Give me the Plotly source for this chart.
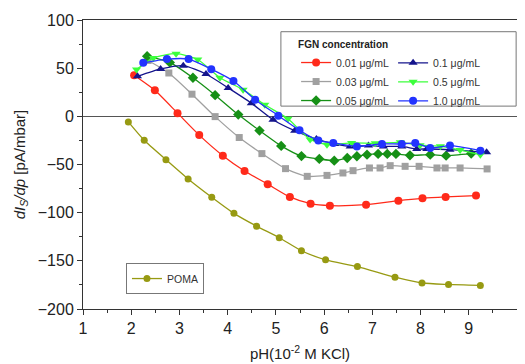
import plotly.graph_objects as go

# ---- data ----
poma_x = [1.94, 2.27, 2.72, 3.18, 3.67, 4.13, 4.60, 5.07, 5.53, 6.03, 6.69, 7.47, 8.03, 8.58, 9.24]
poma_y = [-5.8, -24.9, -45, -65, -84, -100.7, -114, -126, -139.5, -149, -156, -167, -173, -174.5, -175.5]

c001_x = [2.06, 2.49, 2.96, 3.41, 3.90, 4.35, 4.83, 5.29, 5.72, 6.12, 6.87, 7.54, 8.04, 8.52, 9.15]
c001_y = [42.6, 27, 3.3, -19.5, -40.8, -56.7, -70.4, -83.7, -90.7, -92.7, -91.7, -87.5, -85.1, -83.7, -82.3]

c003_x = [2.35, 2.78, 3.26, 3.74, 4.24, 4.71, 5.20, 5.65, 6.06, 6.39, 6.60, 6.94, 7.16, 7.37, 7.68, 7.97, 8.34, 8.51, 8.82, 9.38]
c003_y = [58, 45, 23, -0.3, -22, -38.7, -54.3, -62.3, -61.3, -58.8, -56.4, -53.6, -53.6, -51.2, -51.9, -51.9, -53.6, -53.6, -53.6, -54.6]

c005_x = [2.33, 2.80, 3.28, 3.74, 4.22, 4.66, 5.11, 5.53, 5.90, 6.21, 6.48, 6.68, 6.89, 7.12, 7.31, 7.49, 7.78, 8.20, 8.53, 9.05]
c005_y = [62.5, 56, 40, 22, 1.8, -14.8, -30.7, -41.3, -44.2, -46, -43.2, -41.5, -39.8, -39, -39, -39, -40.5, -39.8, -40.8, -38.7]

c01_x = [2.13, 2.61, 3.08, 3.55, 4.01, 4.49, 4.94, 5.39, 5.84, 6.22, 6.54, 6.92, 7.23, 7.61, 7.92, 8.13, 8.61, 9.37]
c01_y = [41.5, 49.2, 52.6, 43.9, 29.5, 13.7, -3.5, -14.9, -23.6, -28.7, -31.2, -30.4, -31.2, -31.2, -33.9, -33.9, -34.6, -37.4]

c05_x = [2.11, 2.46, 2.93, 3.38, 3.84, 4.32, 4.77, 5.25, 5.71, 6.06, 6.57, 7.06, 7.58, 7.99, 8.41, 8.82, 9.24]
c05_y = [48.5, 60.6, 65, 59, 40, 27.7, 12, -2.4, -24, -29.4, -27.6, -28, -27, -30, -31, -35, -39.8]

c10_x = [2.25, 2.74, 3.19, 3.66, 4.12, 4.57, 5.05, 5.49, 5.88, 6.19, 6.68, 7.20, 7.61, 7.89, 8.20, 8.61, 9.24]
c10_y = [55.5, 59.4, 59.4, 49, 36.6, 17.3, 0.7, -14.5, -25.2, -27.6, -31.2, -28.7, -28.7, -27.6, -32.8, -30.4, -35.6]

fig = go.Figure()

def add(x, y, name, color, symbol, legend="legend", size=8):
    fig.add_trace(go.Scatter(
        x=x, y=y, name=name, mode="lines+markers",
        line=dict(color=color, width=1.3, shape="spline", smoothing=0.6),
        marker=dict(color=color, symbol=symbol, size=size),
        legend=legend))

add(c001_x, c001_y, "0.01 μg/mL", "#ff2a1a", "circle")
add(c003_x, c003_y, "0.03 μg/mL", "#a0a0a0", "square", size=7)
add(c005_x, c005_y, "0.05 μg/mL", "#169016", "diamond")
add(c01_x, c01_y, "0.1 μg/mL", "#14148c", "triangle-up", legend="legend3")
add(c05_x, c05_y, "0.5 μg/mL", "#3cff3c", "triangle-down", legend="legend3")
add(c10_x, c10_y, "1.0 μg/mL", "#2233ff", "circle", legend="legend3")
add(poma_x, poma_y, "POMA", "#979a12", "circle", legend="legend2", size=7)

font = "Liberation Sans, Arial, sans-serif"
lfont = dict(size=10.5, family=font, color="#333")

fig.update_layout(
    width=517, height=356,
    margin=dict(l=75, r=8, t=12, b=55, autoexpand=False),
    paper_bgcolor="white", plot_bgcolor="white",
    font=dict(family=font, size=14, color="#222"),
    legend=dict(
        title=dict(text="<b>FGN concentration</b>", side="top", font=dict(size=10, family=font, color="#222")),
        orientation="v",
        x=0.491, y=0.948, xanchor="left", yanchor="top",
        bgcolor="rgba(0,0,0,0)", borderwidth=0,
        font=lfont, itemwidth=30),
    legend3=dict(
        orientation="v",
        x=0.7145, y=0.902, xanchor="left", yanchor="top",
        bgcolor="rgba(0,0,0,0)", borderwidth=0,
        font=lfont, itemwidth=30),
    legend2=dict(
        x=0.099, y=0.159, xanchor="left", yanchor="top",
        bgcolor="white", bordercolor="#777", borderwidth=1,
        font=lfont, itemwidth=30),
    showlegend=True,
    shapes=[dict(type="rect", xref="paper", yref="paper",
                 x0=0.456, x1=0.998, y0=0.702, y1=0.9595,
                 line=dict(color="#777", width=1), fillcolor="white", layer="above")],
)

fig.update_xaxes(
    range=[1, 10], dtick=1, tick0=1, automargin=False,
    showline=True, linecolor="#333", linewidth=1, mirror=True,
    ticks="outside", ticklen=5, tickcolor="#333",
    minor=dict(ticks="outside", ticklen=3, dtick=0.5, tickcolor="#333"),
    showgrid=False, zeroline=False,
    tickfont=dict(size=16),
    title=dict(text="pH(10<sup>-2</sup> M KCl)", font=dict(size=15), standoff=12),
)
fig.update_yaxes(
    range=[-200, 100], dtick=50, automargin=False,
    showline=True, linecolor="#333", linewidth=1, mirror=True,
    ticks="outside", ticklen=5, tickcolor="#333",
    minor=dict(ticks="outside", ticklen=3, dtick=25, tickcolor="#333"),
    showgrid=False, zeroline=True, zerolinecolor="#555", zerolinewidth=1,
    tickfont=dict(size=16),
    title=dict(text="<i>dI</i><sub><i>S</i></sub><i>/dp</i> [pA/mbar]", font=dict(size=15), standoff=8),
)

fig.write_html("out.html")
